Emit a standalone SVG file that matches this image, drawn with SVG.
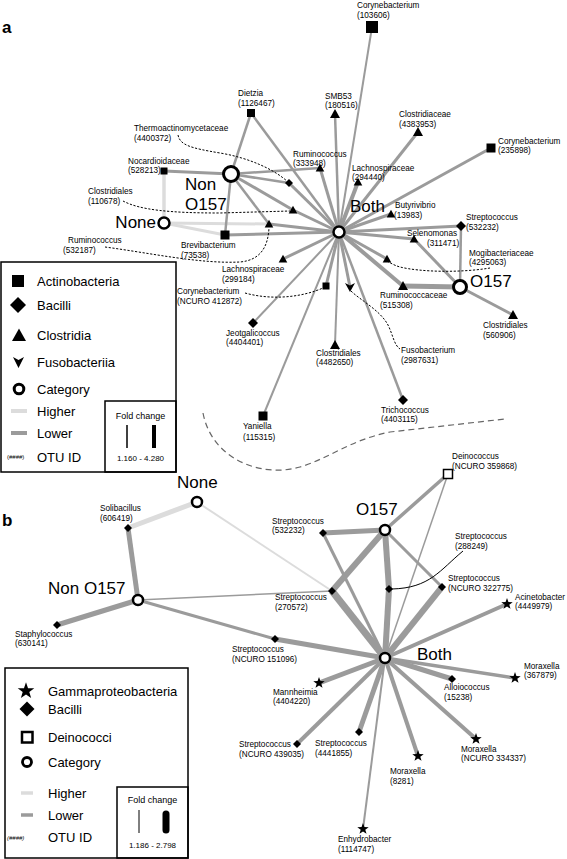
<svg xmlns="http://www.w3.org/2000/svg" xmlns:xlink="http://www.w3.org/1999/xlink" width="567" height="859" viewBox="0 0 567 859">
<style>
text{font-family:"Liberation Sans",Arial,sans-serif;fill:#000}
.t{font-size:8.2px}
.cat{font-size:17px}
.lg{font-size:13px}
.pl{font-size:17px;font-weight:bold}
.lo line{stroke:#9b9b9b;fill:none}
.hi line{stroke:#dcdcdc;fill:none}
.ld{fill:none;stroke:#000;stroke-width:1;stroke-dasharray:2.2,1.6}
.cc{fill:#fff;stroke:#000}
</style>
<defs>
<path id="tri" d="M0,-5 L5,4 L-5,4 Z"/>
<path id="tris" d="M0,-4.3 L4.3,3.5 L-4.3,3.5 Z"/>
<path id="dia" d="M0,-5 L5,0 L0,5 L-5,0 Z"/>
<path id="dias" d="M0,-4 L4,0 L0,4 L-4,0 Z"/>
<path id="fuso" d="M-5,-4 L0,-1.5 L5,-4 L0,5 Z"/>
<path id="star" d="M0,-6 L1.41,-1.94 L5.71,-1.85 L2.28,0.74 L3.53,4.85 L0,2.4 L-3.53,4.85 L-2.28,0.74 L-5.71,-1.85 L-1.41,-1.94 Z"/>
</defs>
<rect width="567" height="859" fill="#fff"/>
<text class="pl" x="2" y="33">a</text>
<text class="pl" x="2" y="526">b</text>

<g id="connectors">
<g class="hi">
<line x1="164" y1="223" x2="164" y2="171" stroke-width="3.5"/>
<line x1="164" y1="223" x2="225" y2="235" stroke-width="3"/>
<line x1="164" y1="223" x2="269" y2="224" stroke-width="3"/>
<line x1="197" y1="502" x2="128" y2="528" stroke-width="5"/>
<line x1="197" y1="502" x2="332" y2="591" stroke-width="2"/>
</g>
<g class="lo">
<line x1="339" y1="232" x2="372" y2="27" stroke-width="2"/>
<line x1="339" y1="232" x2="335" y2="114" stroke-width="2.5"/>
<line x1="339" y1="232" x2="418" y2="132" stroke-width="3"/>
<line x1="339" y1="232" x2="491" y2="148" stroke-width="3"/>
<line x1="339" y1="232" x2="320" y2="168" stroke-width="3"/>
<line x1="339" y1="232" x2="358" y2="182" stroke-width="4"/>
<line x1="339" y1="232" x2="251" y2="113" stroke-width="2.5"/>
<line x1="339" y1="232" x2="391" y2="214" stroke-width="3"/>
<line x1="339" y1="232" x2="461" y2="226" stroke-width="3"/>
<line x1="339" y1="232" x2="414" y2="239" stroke-width="3"/>
<line x1="339" y1="232" x2="387" y2="259" stroke-width="3"/>
<line x1="339" y1="232" x2="403" y2="286" stroke-width="4"/>
<line x1="339" y1="232" x2="403" y2="400" stroke-width="2.5"/>
<line x1="339" y1="232" x2="350" y2="287" stroke-width="3"/>
<line x1="339" y1="232" x2="335" y2="345" stroke-width="2"/>
<line x1="339" y1="232" x2="326" y2="286" stroke-width="3"/>
<line x1="339" y1="232" x2="253" y2="323" stroke-width="2"/>
<line x1="339" y1="232" x2="263" y2="416" stroke-width="2"/>
<line x1="339" y1="232" x2="283" y2="259" stroke-width="3"/>
<line x1="339" y1="232" x2="225" y2="235" stroke-width="3"/>
<line x1="339" y1="232" x2="269" y2="224" stroke-width="3"/>
<line x1="339" y1="232" x2="293" y2="210" stroke-width="3"/>
<line x1="339" y1="232" x2="289" y2="183" stroke-width="3"/>
<line x1="231" y1="174" x2="164" y2="171" stroke-width="3"/>
<line x1="231" y1="174" x2="251" y2="113" stroke-width="2.5"/>
<line x1="231" y1="174" x2="320" y2="168" stroke-width="2.5"/>
<line x1="231" y1="174" x2="289" y2="183" stroke-width="2.5"/>
<line x1="231" y1="174" x2="293" y2="210" stroke-width="3"/>
<line x1="231" y1="174" x2="269" y2="224" stroke-width="2.5"/>
<line x1="231" y1="174" x2="225" y2="235" stroke-width="2.5"/>
<line x1="460" y1="287" x2="461" y2="226" stroke-width="2.5"/>
<line x1="460" y1="287" x2="414" y2="239" stroke-width="3"/>
<line x1="460" y1="287" x2="403" y2="286" stroke-width="5"/>
<line x1="460" y1="287" x2="513" y2="315" stroke-width="3"/>

<line x1="128" y1="528" x2="138" y2="600" stroke-width="5"/>
<line x1="138" y1="600" x2="57" y2="625" stroke-width="5"/>
<line x1="138" y1="600" x2="332" y2="591" stroke-width="1.5"/>
<line x1="138" y1="600" x2="275" y2="639" stroke-width="3"/>
<line x1="385" y1="658" x2="275" y2="639" stroke-width="5"/>
<line x1="385" y1="530" x2="448" y2="474" stroke-width="3.5"/>
<line x1="385" y1="658" x2="448" y2="474" stroke-width="1.5"/>
<line x1="385" y1="530" x2="323" y2="533" stroke-width="5"/>
<line x1="385" y1="658" x2="323" y2="533" stroke-width="3"/>
<line x1="385" y1="530" x2="332" y2="591" stroke-width="6"/>
<line x1="385" y1="658" x2="332" y2="591" stroke-width="7"/>
<line x1="385" y1="530" x2="389" y2="589" stroke-width="6"/>
<line x1="385" y1="658" x2="389" y2="589" stroke-width="6"/>
<line x1="385" y1="530" x2="442" y2="587" stroke-width="3"/>
<line x1="385" y1="658" x2="442" y2="587" stroke-width="6"/>
<line x1="385" y1="658" x2="507" y2="604" stroke-width="4"/>
<line x1="385" y1="658" x2="515" y2="678" stroke-width="3.5"/>
<line x1="385" y1="658" x2="452" y2="679" stroke-width="5"/>
<line x1="385" y1="658" x2="476" y2="739" stroke-width="4"/>
<line x1="385" y1="658" x2="418" y2="756" stroke-width="4"/>
<line x1="385" y1="658" x2="363" y2="829" stroke-width="2"/>
<line x1="385" y1="658" x2="359" y2="732" stroke-width="5"/>
<line x1="385" y1="658" x2="297" y2="744" stroke-width="4"/>
<line x1="385" y1="658" x2="319" y2="683" stroke-width="5"/>
</g>
<path class="ld" d="M178,135 C180,145 190,148 220,153 C250,158 275,170 288,182"/>
<path class="ld" d="M123,201 C140,210 170,213 220,213 L290,211"/>
<path class="ld" d="M105,247 C150,253 200,264 240,262 C262,260 268,245 269,228"/>
<path class="ld" d="M245,293 C270,300 300,298 323,288"/>
<path class="ld" d="M490,268 C460,273 420,272 400,267 C393,265 389,262 387,261"/>
<path class="ld" d="M351,291 C360,300 380,310 388,325 C393,335 394,345 400,349"/>
<path d="M463,551 C440,570 430,588 392,589" fill="none" stroke="#000" stroke-width="1"/>
<path d="M203,413 C212,460 262,478 300,467 C330,458 350,440 390,432 L505,419" fill="none" stroke="#666" stroke-width="1.2" stroke-dasharray="6,4"/>
</g>

<!-- panel a nodes -->
<g id="a-both"><circle class="cc" cx="339" cy="232" r="5.5" stroke-width="2.5"/><text class="cat" x="350" y="212">Both</text></g>
<g id="a-non-o157"><circle class="cc" cx="231" cy="174" r="7.5" stroke-width="3"/><text class="cat" x="185" y="190">Non</text><text class="cat" x="185" y="210">O157</text></g>
<g id="a-none"><circle class="cc" cx="164" cy="223" r="5.5" stroke-width="2.5"/><text class="cat" x="156" y="228" text-anchor="end">None</text></g>
<g id="a-o157"><circle class="cc" cx="460" cy="287" r="6.5" stroke-width="3"/><text class="cat" x="470" y="287">O157</text></g>

<g id="a-coryne-103606"><rect x="366" y="21" width="12" height="12"/><text class="t" x="357" y="7.5">Corynebacterium</text><text class="t" x="357" y="17.5">(103606)</text></g>
<g id="a-smb53"><use href="#tri" x="335" y="114"/><text class="t" x="325" y="98.75">SMB53</text><text class="t" x="325" y="108.25">(180516)</text></g>
<g id="a-clostridiaceae"><use href="#tri" x="418" y="132"/><text class="t" x="399" y="117">Clostridiaceae</text><text class="t" x="399" y="127">(4383953)</text></g>
<g id="a-coryne-235898"><rect x="486.5" y="143.5" width="9" height="9"/><text class="t" x="498" y="143.75">Corynebacterium</text><text class="t" x="498" y="153.25">(235898)</text></g>
<g id="a-rumino-333948"><use href="#tris" x="320" y="168"/><text class="t" x="293" y="156.75">Ruminococcus</text><text class="t" x="293" y="166.25">(333948)</text></g>
<g id="a-lachno-294440"><use href="#tris" x="358" y="182"/><text class="t" x="352" y="170.75">Lachnospiraceae</text><text class="t" x="352" y="180.25">(294440)</text></g>
<g id="a-dietzia"><rect x="247" y="109" width="8" height="8"/><text class="t" x="238" y="96">Dietzia</text><text class="t" x="238" y="105.5">(1126467)</text></g>
<g id="a-thermo"><use href="#dias" x="289" y="183"/><text class="t" x="134" y="131">Thermoactinomycetaceae</text><text class="t" x="134" y="141">(4400372)</text></g>
<g id="a-nocardio"><rect x="160.5" y="167.5" width="7" height="7"/><text class="t" x="128" y="163.75">Nocardioidaceae</text><text class="t" x="128" y="173.25">(528213)</text></g>
<g id="a-clost-110678"><use href="#tris" x="293" y="210"/><text class="t" x="88" y="194.25">Clostridiales</text><text class="t" x="88" y="203.75">(110678)</text></g>
<g id="a-rumino-532187"><use href="#tris" x="269" y="224"/><text class="t" x="68" y="243">Ruminococcus</text><text class="t" x="63" y="253">(532187)</text></g>
<g id="a-brevi"><rect x="220.5" y="230.5" width="9" height="9"/><text class="t" x="181" y="248">Brevibacterium</text><text class="t" x="181" y="258">(73538)</text></g>
<g id="a-lachno-299184"><use href="#tris" x="283" y="259"/><text class="t" x="222" y="272.25">Lachnospiraceae</text><text class="t" x="222" y="281.75">(299184)</text></g>
<g id="a-coryne-412872"><rect x="322.5" y="282.5" width="7" height="7"/><text class="t" x="177" y="294.25">Corynebacterium</text><text class="t" x="177" y="303.75">(NCURO 412872)</text></g>
<g id="a-jeotgali"><use href="#dia" x="253" y="323"/><text class="t" x="226" y="335.75">Jeotgalicoccus</text><text class="t" x="226" y="345.25">(4404401)</text></g>
<g id="a-clost-4482650"><use href="#tri" x="335" y="345"/><text class="t" x="316" y="355.75">Clostridiales</text><text class="t" x="316" y="365.25">(4482650)</text></g>
<g id="a-yaniella"><rect x="258.5" y="411.5" width="9" height="9"/><text class="t" x="243" y="429">Yaniella</text><text class="t" x="243" y="440">(115315)</text></g>
<g id="a-tricho"><use href="#dia" x="403" y="400"/><text class="t" x="381" y="412.75">Trichococcus</text><text class="t" x="381" y="422.25">(4403115)</text></g>
<g id="a-fuso"><use href="#fuso" x="350" y="287"/><text class="t" x="401" y="353">Fusobacterium</text><text class="t" x="401" y="363">(2987631)</text></g>
<g id="a-clost-560906"><use href="#tri" x="513" y="315"/><text class="t" x="483" y="328">Clostridiales</text><text class="t" x="483" y="338">(560906)</text></g>
<g id="a-rumcaceae"><use href="#tri" x="403" y="286"/><text class="t" x="380" y="298.25">Ruminococcaceae</text><text class="t" x="380" y="307.75">(515308)</text></g>
<g id="a-mogi"><use href="#tris" x="387" y="259"/><text class="t" x="469" y="255.75">Mogibacteriaceae</text><text class="t" x="469" y="265.25">(4295063)</text></g>
<g id="a-strep-532232"><use href="#dia" x="461" y="226"/><text class="t" x="466" y="220.25">Streptococcus</text><text class="t" x="466" y="229.75">(532232)</text></g>
<g id="a-seleno"><use href="#tris" x="414" y="239"/><text class="t" x="407" y="236.25">Selenomonas</text><text class="t" x="427" y="245.75">(311471)</text></g>
<g id="a-butyri"><use href="#tris" x="391" y="214"/><text class="t" x="395" y="208.25">Butyrivibrio</text><text class="t" x="394" y="217.75">(13983)</text></g>

<!-- legend a -->
<g id="legend-a">
<rect x="1" y="262" width="175" height="210" fill="#fff" stroke="#000" stroke-width="1.5"/>
<rect x="105" y="401" width="71" height="71" fill="none" stroke="#000" stroke-width="1.5"/>
<rect x="12" y="275" width="12" height="12"/><text class="lg" x="37" y="285.5">Actinobacteria</text>
<path d="M18,297 L26,305 L18,313 L10,305 Z"/><text class="lg" x="37" y="309.5">Bacilli</text>
<path d="M19,328.5 L26,341 L12,341 Z"/><text class="lg" x="37" y="340">Clostridia</text>
<path d="M13,357 L18.5,360 L24,357 L18.5,368 Z"/><text class="lg" x="37" y="367">Fusobacteriia</text>
<circle cx="19" cy="389" r="4.8" fill="#fff" stroke="#000" stroke-width="3"/><text class="lg" x="37" y="393.5">Category</text>
<line x1="11" y1="411" x2="27" y2="411" stroke="#dcdcdc" stroke-width="4"/><text class="lg" x="37" y="415.5">Higher</text>
<line x1="11" y1="433" x2="27" y2="433" stroke="#9b9b9b" stroke-width="4"/><text class="lg" x="37" y="438">Lower</text>
<text x="7" y="459" font-size="6">(####)</text><text class="lg" x="37" y="462">OTU ID</text>
<text x="140.5" y="419" font-size="9" text-anchor="middle">Fold change</text>
<line x1="127" y1="425" x2="127" y2="448" stroke="#000" stroke-width="1.5"/>
<line x1="154" y1="425" x2="154" y2="448" stroke="#000" stroke-width="4"/>
<text x="140.5" y="461" font-size="8" text-anchor="middle">1.160 - 4.280</text>
</g>

<!-- panel b nodes -->
<g id="b-none"><circle class="cc" cx="197" cy="502" r="5" stroke-width="2.5"/><text class="cat" x="177" y="488">None</text></g>
<g id="b-non-o157"><circle class="cc" cx="138" cy="600" r="5" stroke-width="2.5"/><text class="cat" x="48" y="594">Non O157</text></g>
<g id="b-o157"><circle class="cc" cx="385" cy="530" r="5" stroke-width="2.5"/><text class="cat" x="356" y="515">O157</text></g>
<g id="b-both"><circle class="cc" cx="385" cy="658" r="5" stroke-width="2.5"/><text class="cat" x="417" y="660">Both</text></g>

<g id="b-solibacillus"><use href="#dias" x="128" y="528"/><text class="t" x="100" y="511.25">Solibacillus</text><text class="t" x="100" y="520.75">(606419)</text></g>
<g id="b-staphylo"><use href="#dias" x="57" y="625"/><text class="t" x="15" y="636.75">Staphylococcus</text><text class="t" x="15" y="646.25">(630141)</text></g>
<g id="b-strep-151096"><use href="#dias" x="275" y="639"/><text class="t" x="232" y="652.25">Streptococcus</text><text class="t" x="232" y="661.75">(NCURO 151096)</text></g>
<g id="b-strep-532232"><use href="#dias" x="323" y="533"/><text class="t" x="272" y="523.75">Streptococcus</text><text class="t" x="272" y="533.25">(532232)</text></g>
<g id="b-deino"><rect x="443.5" y="469.5" width="9" height="9" fill="#fff" stroke="#000" stroke-width="1.5"/><text class="t" x="452" y="459.25">Deinococcus</text><text class="t" x="452" y="468.75">(NCURO 359868)</text></g>
<g id="b-strep-288249"><use href="#dias" x="389" y="589"/><text class="t" x="455" y="539.25">Streptococcus</text><text class="t" x="455" y="548.75">(288249)</text></g>
<g id="b-strep-322775"><use href="#dias" x="442" y="587"/><text class="t" x="448" y="581.25">Streptococcus</text><text class="t" x="448" y="590.75">(NCURO 322775)</text></g>
<g id="b-strep-270572"><use href="#dias" x="332" y="591"/><text class="t" x="275" y="600.25">Streptococcus</text><text class="t" x="275" y="609.75">(270572)</text></g>
<g id="b-acineto"><use href="#star" x="507" y="604"/><text class="t" x="515" y="599.75">Acinetobacter</text><text class="t" x="515" y="609.25">(4449979)</text></g>
<g id="b-morax-367879"><use href="#star" x="515" y="678"/><text class="t" x="524" y="668.75">Moraxella</text><text class="t" x="524" y="678.25">(367879)</text></g>
<g id="b-alloio"><use href="#dias" x="452" y="679"/><text class="t" x="444" y="690.25">Alloiococcus</text><text class="t" x="444" y="699.75">(15238)</text></g>
<g id="b-mannheimia"><use href="#star" x="319" y="683"/><text class="t" x="273" y="694.75">Mannheimia</text><text class="t" x="273" y="704.25">(4404220)</text></g>
<g id="b-strep-4441855"><use href="#dias" x="359" y="732"/><text class="t" x="315" y="746">Streptococcus</text><text class="t" x="315" y="756">(4441855)</text></g>
<g id="b-strep-439035"><use href="#dias" x="297" y="744"/><text class="t" x="239" y="747.25">Streptococcus</text><text class="t" x="239" y="756.75">(NCURO 439035)</text></g>
<g id="b-morax-334337"><use href="#star" x="476" y="739"/><text class="t" x="461" y="751.75">Moraxella</text><text class="t" x="461" y="761.25">(NCURO 334337)</text></g>
<g id="b-morax-8281"><use href="#star" x="418" y="756"/><text class="t" x="390" y="774">Moraxella</text><text class="t" x="390" y="784">(8281)</text></g>
<g id="b-enhydro"><use href="#star" x="363" y="829"/><text class="t" x="338" y="842">Enhydrobacter</text><text class="t" x="338" y="852">(1114747)</text></g>

<!-- legend b -->
<g id="legend-b">
<rect x="5" y="668" width="183" height="190" fill="#fff" stroke="#000" stroke-width="1.5"/>
<rect x="117" y="787" width="71" height="71" fill="none" stroke="#000" stroke-width="1.5"/>
<use href="#star" transform="translate(26,691) scale(1.45)"/><text class="lg" x="48" y="696">Gammaproteobacteria</text>
<path d="M27,701.5 L34.5,709 L27,716.5 L19.5,709 Z"/><text class="lg" x="48" y="714">Bacilli</text>
<rect x="22" y="732" width="10.5" height="10.5" fill="#fff" stroke="#000" stroke-width="2.5"/><text class="lg" x="48" y="742">Deinococci</text>
<circle cx="27" cy="762" r="4.5" fill="#fff" stroke="#000" stroke-width="2.8"/><text class="lg" x="48" y="767">Category</text>
<line x1="21" y1="793" x2="33" y2="793" stroke="#dcdcdc" stroke-width="3.5"/><text class="lg" x="48" y="798">Higher</text>
<line x1="21" y1="815" x2="33" y2="815" stroke="#9b9b9b" stroke-width="3.5"/><text class="lg" x="48" y="820">Lower</text>
<text x="7" y="840" font-size="6" font-style="italic">(####)</text><text class="lg" x="48" y="842">OTU ID</text>
<text x="152.5" y="803" font-size="9" text-anchor="middle">Fold change</text>
<line x1="139" y1="810" x2="139" y2="833" stroke="#000" stroke-width="1"/>
<line x1="166" y1="814" x2="166" y2="830" stroke="#000" stroke-width="7" stroke-linecap="round"/>
<text x="152.5" y="848" font-size="8" text-anchor="middle">1.186 - 2.798</text>
</g>
</svg>
